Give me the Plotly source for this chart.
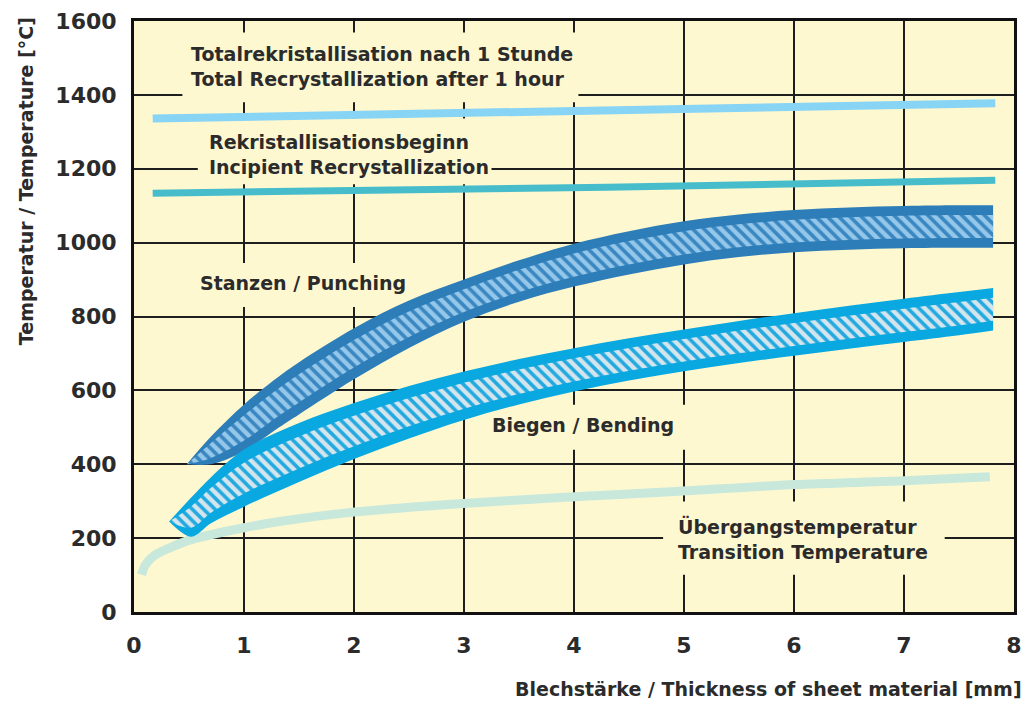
import numpy as np
import plotly.graph_objects as go

# ---- data (sheet thickness in mm, temperature in °C) ----
total_x = [0.17, 4.3, 7.83]
total_y = [1336, 1357, 1377]

incip_x = [0.17, 4.3, 7.83]
incip_y = [1134, 1150, 1169]

trans_x = [0.07, 0.1, 0.18, 0.32, 0.52, 1.0, 1.32, 1.95, 2.85, 4.0, 4.92, 6.0, 7.0, 7.78]
trans_y = [101, 126, 152, 173, 196, 228, 245, 269, 291, 312, 326, 345, 355, 366]

punch_x = [0.48, 0.7, 1.0, 1.32, 1.5, 2.0, 2.5, 3.0, 3.5, 4.0, 4.5, 5.0, 5.5, 6.0, 6.5, 7.0, 7.5, 7.81]
punch_hi = [400, 475, 562, 638, 676, 768, 843, 900, 952, 997, 1031, 1058, 1076, 1088, 1095, 1099, 1101, 1101]
punch_lo = [400, 400, 435, 500, 535, 630, 715, 786, 840, 881, 914, 941, 961, 974, 981, 985, 986, 986]

bend_x = [0.32, 0.52, 0.7, 1.0, 1.5, 2.0, 2.5, 3.0, 3.5, 4.0, 4.5, 5.0, 5.5, 6.0, 6.5, 7.0, 7.5, 7.81]
bend_hi = [245, 310, 365, 440, 512, 566, 612, 651, 685, 714, 741, 765, 788, 809, 829, 848, 866, 877]
bend_lo = [245, 204, 240, 285, 352, 414, 470, 520, 562, 597, 627, 652, 674, 694, 713, 731, 749, 762]

x_ticks = [0, 1, 2, 3, 4, 5, 6, 7, 8]
y_ticks = [0, 200, 400, 600, 800, 1000, 1200, 1400, 1600]

# ---- styling ----
FONT = "DejaVu Sans"
TEXT = "#2b2b2b"
PLOT_BG = "#FEF8D0"
BORDER = 0.23  # share of band height used by the solid edge on each side


def edge_pair(x, lo, hi, **fill):
    """Two smoothed edges; the second one fills back to the first."""
    base = go.Scatter(x=x, y=lo, mode="lines", line=dict(width=0, shape="spline", smoothing=1),
                      hoverinfo="skip", showlegend=False)
    top = go.Scatter(x=x, y=hi, mode="lines", fill="tonexty",
                     line=dict(width=0, shape="spline", smoothing=1),
                     hoverinfo="skip", showlegend=False, **fill)
    return [base, top]


def band(x, hi, lo, edge, light, stripe):
    x = np.asarray(x, float)
    hi = np.asarray(hi, float)
    lo = np.asarray(lo, float)
    gap = hi - lo
    in_hi = hi - BORDER * gap
    in_lo = lo + BORDER * gap
    traces = edge_pair(x, lo, hi, fillcolor=edge)
    traces += edge_pair(x, in_lo, in_hi, fillcolor=light,
                        fillpattern=dict(shape="\\", fgcolor=stripe, bgcolor=light,
                                         size=8, solidity=0.45, fillmode="replace"))
    return traces


fig = go.Figure()

fig.add_trace(go.Scatter(x=trans_x, y=trans_y, mode="lines",
                         line=dict(color="#C8E8DC", width=9, shape="spline", smoothing=0.8),
                         showlegend=False))
fig.add_trace(go.Scatter(x=total_x, y=total_y, mode="lines",
                         line=dict(color="#88D4F5", width=8), showlegend=False))
fig.add_trace(go.Scatter(x=incip_x, y=incip_y, mode="lines",
                         line=dict(color="#47BDCB", width=7), showlegend=False))

for tr in band(punch_x, punch_hi, punch_lo, "#2D7DB8", "#94C7EA", "#3A87C1"):
    fig.add_trace(tr)
for tr in band(bend_x, bend_hi, bend_lo, "#0AA8E0", "#D5E5EE", "#22AAE0"):
    fig.add_trace(tr)

# label backgrounds: hide the grid behind the text, stay under the curves
label_boxes = [
    (0.44, 4.04, 1380, 1569),
    (0.58, 3.25, 1158, 1336),
    (0.50, 2.56, 826, 945),
    (3.16, 5.08, 439, 561),
    (4.81, 7.37, 101, 299),
]
for x0, x1, y0, y1 in label_boxes:
    fig.add_shape(type="rect", xref="x", yref="y", x0=x0, x1=x1, y0=y0, y1=y1,
                  fillcolor=PLOT_BG, line=dict(width=0), layer="between")

lab_font = dict(family=FONT, size=19, color=TEXT, weight="bold")
labels = [
    (0.50, 1477, "left", "Totalrekristallisation nach 1 Stunde<br>Total Recrystallization after 1 hour"),
    (0.66, 1238, "left", "Rekristallisationsbeginn<br>Incipient Recrystallization"),
    (1.54, 890, "center", "Stanzen / Punching"),
    (4.085, 507, "center", "Biegen / Bending"),
    (4.93, 197, "left", "Übergangstemperatur<br>Transition Temperature"),
]
for x, y, anchor, txt in labels:
    fig.add_annotation(x=x, y=y, xref="x", yref="y", text=txt, showarrow=False,
                       xanchor=anchor, yanchor="middle", align="left", font=lab_font)

fig.add_annotation(text="Temperatur / Temperature [°C]", xref="paper", yref="paper",
                   x=-0.1227, y=0.729, textangle=-90, showarrow=False,
                   xanchor="center", yanchor="middle",
                   font=dict(family=FONT, size=19, color=TEXT, weight="bold"))
fig.add_annotation(text="Blechstärke / Thickness of sheet material [mm]",
                   xref="paper", yref="paper", x=1.011, y=-0.131, showarrow=False,
                   xanchor="right", yanchor="middle",
                   font=dict(family=FONT, size=19, color=TEXT, weight="bold"))

axis_common = dict(showgrid=True, gridcolor="#1e1e1e", gridwidth=2,
                   showline=True, linecolor="#111111", linewidth=3, mirror=True,
                   ticks="", zeroline=False, fixedrange=True,
                   tickfont=dict(family=FONT, size=22, color=TEXT, weight="bold"))

fig.update_xaxes(range=[0, 8], tickvals=x_ticks, ticktext=[str(v) for v in x_ticks],
                 ticklabelstandoff=12, **axis_common)
fig.update_yaxes(range=[0, 1600], tickvals=y_ticks, ticktext=[str(v) for v in y_ticks],
                 ticklabelstandoff=10, **axis_common)

fig.update_layout(width=1031, height=704,
                  margin=dict(l=134, r=9, t=20, b=92),
                  paper_bgcolor="white", plot_bgcolor=PLOT_BG,
                  showlegend=False)

fig.write_html("out.html")
